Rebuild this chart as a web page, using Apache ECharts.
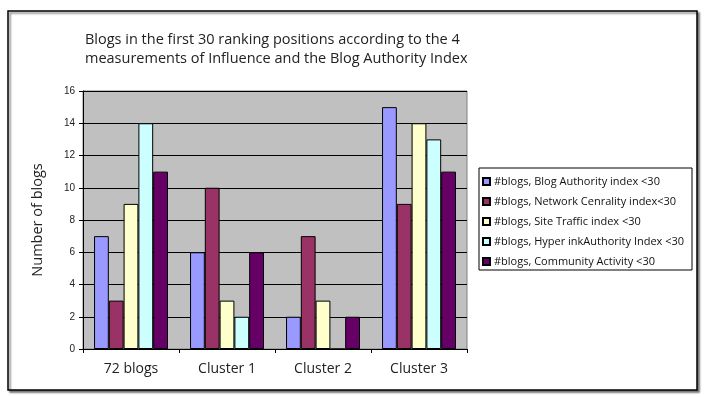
<!DOCTYPE html>
<html>
<head>
<meta charset="utf-8">
<script src="https://cdn.jsdelivr.net/npm/echarts@6/dist/echarts.min.js"></script>
<style>
  html, body { margin: 0; padding: 0; background: #fff; }
  #chart { width: 709px; height: 397px; }
</style>
</head>
<body>
<div id="chart"></div>
<script>
var categories = ['72 blogs', 'Cluster 1', 'Cluster 2', 'Cluster 3'];
var seriesNames = [
  '#blogs, Blog Authority index <30',
  '#blogs, Network Cenrality index<30',
  '#blogs, Site Traffic index <30',
  '#blogs, Hyper inkAuthority Index <30',
  '#blogs, Community Activity <30'
];
var blogAuthority = [7, 6, 2, 15];
var networkCentrality = [3, 10, 7, 9];
var siteTraffic = [9, 3, 3, 14];
var hyperlinkAuthority = [14, 2, 0, 13];
var communityActivity = [11, 6, 2, 11];
var yTicks = [0, 2, 4, 6, 8, 10, 12, 14, 16];

var colors = ['#9999ff', '#993366', '#ffffcc', '#ccffff', '#660066'];
var allData = [blogAuthority, networkCentrality, siteTraffic, hyperlinkAuthority, communityActivity];

var chart = echarts.init(document.getElementById('chart'));

var series = [];
for (var i = 0; i < allData.length; i++) {
  series.push({
    name: seriesNames[i],
    type: 'bar',
    data: allData[i],
    barGap: '0%',
    barCategoryGap: '23%',
    itemStyle: { color: colors[i], borderColor: '#000', borderWidth: 1 }
  });
}

var option = {
  animation: false,
  backgroundColor: '#fff',
  textStyle: { fontFamily: 'Open Sans' },
  title: {
    text: 'Blogs in the first 30 ranking positions according to the 4\nmeasurements of Influence and the Blog Authority Index',
    left: 80,
    top: 25,
    textStyle: { fontSize: 14.5, fontWeight: 'normal', color: '#222', lineHeight: 19, fontFamily: 'Open Sans' }
  },
  graphic: [
    {
      type: 'rect', z: -10,
      shape: { x: 8, y: 11, width: 689, height: 379 },
      style: { fill: '#fff', stroke: '#000', lineWidth: 1.5, shadowBlur: 2, shadowOffsetX: 2, shadowOffsetY: 2, shadowColor: 'rgba(0,0,0,0.5)' }
    },
    {
      type: 'rect', z: 5,
      shape: { x: 479, y: 168, width: 213, height: 102 },
      style: { fill: '#fff', stroke: '#000', lineWidth: 1 }
    }
  ],
  legend: {
    orient: 'vertical',
    left: 482,
    top: 176,
    z: 10,
    itemWidth: 7,
    itemHeight: 7,
    itemGap: 9,
    icon: 'rect',
    padding: 0,
    data: seriesNames,
    textStyle: { fontSize: 11, color: '#111', padding: [0, 0, 0, -1], fontFamily: 'Open Sans' }
  },
  grid: {
    left: 83,
    right: 242,
    top: 91,
    bottom: 48,
    show: true,
    backgroundColor: '#c0c0c0',
    borderColor: '#808080',
    borderWidth: 1
  },
  xAxis: {
    type: 'category',
    data: categories,
    axisLine: { lineStyle: { color: '#000', width: 1 } },
    axisTick: { show: true, length: 4, lineStyle: { color: '#000' } },
    axisLabel: { fontSize: 14, color: '#222', margin: 13, fontFamily: 'Open Sans' }
  },
  yAxis: {
    type: 'value',
    min: yTicks[0],
    max: yTicks[yTicks.length - 1],
    interval: 2,
    name: 'Number of blogs',
    nameLocation: 'middle',
    nameGap: 38,
    nameTextStyle: { fontSize: 14.5, color: '#222', fontFamily: 'Open Sans' },
    axisLine: { show: true, lineStyle: { color: '#000', width: 1 } },
    axisTick: { show: true, length: 4, lineStyle: { color: '#000' } },
    axisLabel: { fontSize: 10, color: '#222', margin: 8, fontFamily: 'Liberation Sans' },
    splitLine: { show: true, lineStyle: { color: '#000', width: 1 } }
  },
  series: series
};

chart.setOption(option);
</script>
</body>
</html>
